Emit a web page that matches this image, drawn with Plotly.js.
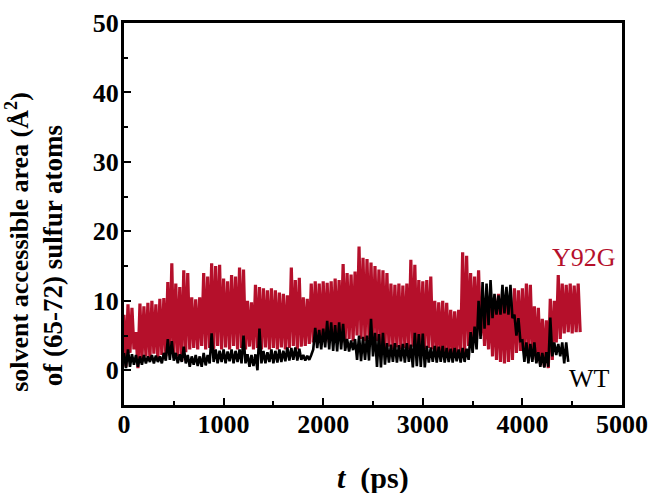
<!DOCTYPE html>
<html>
<head>
<meta charset="utf-8">
<script src="https://cdn.plot.ly/plotly-3.0.1.min.js"></script>
<style>html,body{margin:0;padding:0;background:#fff;}#chart{width:653px;height:493px;}</style>
</head>
<body>
<div id="chart"></div>
<script>
// sampling step of both trajectories (ps)
const dtPs = 20;

// Y92G solvent accessible area (Å^2), sampled every 20 ps from t = 0
const y92gValues = [
  8, 0.5, 9.5, 2.5, 9, 3, 5.5, 0.3, 9.6, 1.5,
  9.2, 2, 9.7, 1.6, 10, 2.4, 9.5, 1.5, 10.3, 2.2,
  10.4, 2, 12.7, 2.5, 15.4, 1.8, 12.5, 2, 12, 1.3,
  14.4, 2.6, 14, 3, 10.5, 3.2, 10.2, 3, 10.5, 3.5,
  14, 3, 13.5, 3.2, 15.4, 3, 15, 3.5, 15.2, 3,
  13.2, 3.3, 12.8, 3, 13.7, 3.5, 13.5, 3, 14.8, 3.2,
  14.5, 3, 10, 3.4, 9.8, 3, 12.3, 3.2, 12, 3,
  11.8, 3.3, 11.5, 3, 11.8, 3.2, 11.5, 3, 11.2, 3.3,
  11, 3, 10.8, 3.2, 14.8, 3.5, 13, 3, 13.3, 3.4,
  10.5, 3.5, 10.3, 3.8, 12.5, 4, 12.8, 4.2, 12.5, 4,
  12.8, 4.3, 12.6, 4, 12.8, 4.2, 13.2, 4, 13, 4.4,
  15.3, 4, 14, 4.5, 13.8, 4.2, 14.2, 5, 17.8, 4.5,
  16.2, 4.2, 16, 4.5, 15.5, 4, 15, 4.2, 14.5, 3.5,
  14.4, 3, 14, 3.4, 12.5, 3, 12.3, 3.3, 12.5, 3,
  12.2, 3.2, 12.5, 3, 15.9, 3.4, 15.2, 3, 13, 3.3,
  12.8, 3, 13, 3.2, 13.5, 3, 10, 2.4, 9.8, 2.2,
  10, 2, 9.7, 2.3, 8.7, 2, 8.5, 2.4, 8.7, 2.5,
  17, 2.5, 16.5, 3.5, 14, 4, 13.5, 4.5, 14.4, 5,
  10.3, 3.5, 10, 3, 10.3, 2, 10.5, 1.5, 11, 1.2,
  10.5, 1, 10.8, 1.2, 10.5, 1.5, 11.8, 2.5, 11.5, 2.8,
  11.8, 2.6, 12.5, 2.8, 12.3, 2.6, 9.2, 1.5, 9, 1,
  7.4, 0.5, 7.2, 0.3, 10.3, 1.5, 10, 4, 13.7, 4.5,
  12.5, 5.3, 12.3, 5.5, 12.5, 5.3, 12.2, 5.5, 12.5, 5.5
];

// WT solvent accessible area (Å^2), sampled every 20 ps from t = 0
const wtValues = [
  2.5, 0.3, 3, 0.5, 2.3, 0.8, 2.2, 0.5, 2, 0.8,
  2.2, 1, 2, 1.2, 2.2, 1, 2.1, 1.2, 2, 1,
  2.5, 1.4, 4.5, 1.5, 4.2, 1.4, 2.5, 1, 2.3, 1.2,
  3.4, 1, 2.2, 0.5, 2, 0.8, 2.2, 0.6, 2, 0.5,
  2.5, 0.7, 2.2, 1, 5.3, 1.2, 3, 1, 2.8, 1.2,
  3, 1, 2.7, 1.3, 3, 1, 2.8, 1.2, 3, 1,
  5, 1, 2.3, 0.5, 2.2, 0.6, 2.3, 0, 6, 1,
  2.8, 1, 2.6, 1.2, 3, 1, 2.8, 1.1, 3, 1.2,
  2.8, 1.3, 3.3, 1.4, 3.2, 1.5, 3.3, 1.4, 3.1, 1.5,
  2.2, 1.4, 2.1, 1.5, 2.2, 3, 6.1, 3.2, 5.8, 3,
  6, 3.3, 7.1, 3, 6.9, 2.8, 6.5, 2.7, 6.9, 3,
  6.7, 2.8, 4.5, 2.7, 4.3, 2.9, 4.5, 1.5, 5, 1.3,
  4.8, 1.5, 5, 1.4, 7.4, 2, 5.4, 0.5, 5.2, 0.4,
  5.4, 0.8, 3.9, 1.1, 3.7, 1.2, 3.9, 1.1, 3.6, 1.3,
  3.8, 1.1, 3.9, 1.2, 3.7, 0.4, 5.4, 0.6, 5.2, 0.5,
  5.3, 0.4, 3.5, 1.1, 3.3, 1.2, 3.5, 1.1, 3.4, 1.2,
  3.5, 1.1, 3.2, 1.2, 3.1, 1.1, 3.2, 1.3, 3, 1.1,
  3.2, 1.2, 3.1, 1.5, 5.5, 2.5, 6.3, 3, 10, 4.5,
  12.7, 6, 12.5, 6.5, 13, 7.5, 11, 8, 10.8, 8,
  12.3, 8.2, 12, 8, 12.3, 7.5, 8, 5, 7.5, 4.2,
  4.3, 1.2, 4, 1, 3.8, 1.2, 4, 1, 2.6, 0.5,
  2.5, 0.4, 2.6, 0.5, 7.6, 2, 4, 2.2, 3.8, 2,
  4, 1, 4, 1.2
];

const xTickVals = [0, 1000, 2000, 3000, 4000, 5000];
const yTickVals = [0, 10, 20, 30, 40, 50];
const seriesNames = ['Y92G', 'WT'];
const yTitleLines = ['solvent accessible area (Å<sup>2</sup>)', 'of (65-72) sulfur atoms'];
const xTitleText = '<i>t</i>  (ps)';

const tY = y92gValues.map((v, i) => i * dtPs);
const tW = wtValues.map((v, i) => i * dtPs);

const red = '#b5102b';
const serif = 'Liberation Serif, Times New Roman, serif';

const traces = [
  {x: tY, y: y92gValues, type: 'scatter', mode: 'lines', name: seriesNames[0],
   line: {color: red, width: 3.2}},
  {x: tW, y: wtValues, type: 'scatter', mode: 'lines', name: seriesNames[1],
   line: {color: '#000000', width: 2.6}}
];

const axisCommon = {
  showgrid: false, zeroline: false, showline: true, linecolor: '#000', linewidth: 3,
  mirror: true, ticks: 'inside', ticklen: 7, tickwidth: 2, tickcolor: '#000',
  tickfont: {family: serif, size: 26, color: '#000', weight: 'bold'}
};

const layout = {
  width: 653, height: 493,
  margin: {l: 124, r: 31, t: 23, b: 88},
  paper_bgcolor: '#fff', plot_bgcolor: '#fff',
  showlegend: false,
  xaxis: Object.assign({}, axisCommon, {
    range: [0, 5000], tickvals: xTickVals, ticktext: xTickVals.map(String),
    ticklabelstandoff: -6,
    minor: {dtick: 500, tick0: 0, ticks: 'inside', ticklen: 4, tickwidth: 2, tickcolor: '#000'}
  }),
  yaxis: Object.assign({}, axisCommon, {
    range: [-5, 50], tickvals: yTickVals, ticktext: yTickVals.map(String),
    ticklabelstandoff: -3,
    minor: {dtick: 5, tick0: 0, ticks: 'inside', ticklen: 4, tickwidth: 2, tickcolor: '#000'}
  }),
  annotations: [
    {text: seriesNames[0], x: 4618, y: 16.2, xref: 'x', yref: 'y', showarrow: false,
     xanchor: 'center', yanchor: 'middle',
     font: {family: serif, size: 26, color: red}},
    {text: seriesNames[1], x: 4669, y: -1.25, xref: 'x', yref: 'y', showarrow: false,
     xanchor: 'center', yanchor: 'middle',
     font: {family: serif, size: 26, color: '#000'}},
    {text: yTitleLines[0], x: -0.213, y: 0.427, xref: 'paper', yref: 'paper', showarrow: false,
     xanchor: 'center', yanchor: 'middle',
     textangle: -90, font: {family: serif, size: 26, color: '#000', weight: 'bold'}},
    {text: yTitleLines[1], x: -0.142, y: 0.39, xref: 'paper', yref: 'paper', showarrow: false,
     xanchor: 'center', yanchor: 'middle',
     textangle: -90, font: {family: serif, size: 27, color: '#000', weight: 'bold'}},
    {text: xTitleText, x: 0.5, y: -0.19, xref: 'paper', yref: 'paper', showarrow: false,
     xanchor: 'center', yanchor: 'middle',
     font: {family: serif, size: 30, color: '#000', weight: 'bold'}}
  ]
};

Plotly.newPlot('chart', traces, layout, {displayModeBar: false, staticPlot: true});
</script>
</body>
</html>
